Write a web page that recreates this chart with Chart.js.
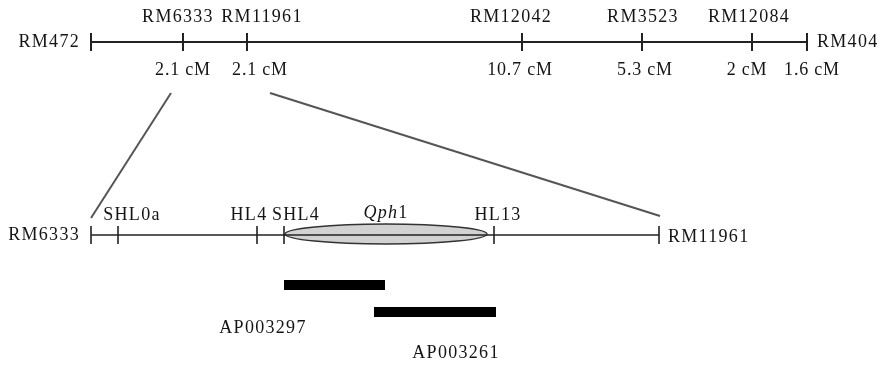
<!DOCTYPE html>
<html>
<head>
    <title>Qph1 fine map</title>
    <style>
        html, body { margin: 0; padding: 0; background: #ffffff; }
        #map { display: block; }
    </style>
</head>
<body>
    <canvas id="map" width="880" height="365"></canvas>
    <script src="https://cdn.jsdelivr.net/npm/chart.js"></script>
    <script>
        // chromosome map (positions along the drawn map)
        var topMarkers = ['RM472', 'RM6333', 'RM11961', 'RM12042', 'RM3523', 'RM12084', 'RM404'];
        var topPos = [91, 183, 247, 522, 642, 752, 807];
        var topDist = ['', '2.1 cM', '2.1 cM', '10.7 cM', '5.3 cM', '2 cM', '1.6 cM'];

        // fine map between RM6333 and RM11961
        var fineMarkers = ['RM6333', 'SHL0a', 'HL4', 'SHL4', 'HL13', 'RM11961'];
        var finePos = [91, 118, 257, 284, 494, 659];
        var qtlName = 'Qph1';
        var qtlSpan = [285, 487];

        // BAC / PAC clones
        var clones = ['AP003297', 'AP003261'];
        var cloneStart = [284, 374];
        var cloneEnd = [385, 496];

        // layout (not data)
        var topY = 42, fineY = 235, tickH = 9;
        var cloneY = [285, 312];
        var cloneLabel = [{ x: 263, y: 328 }, { x: 456, y: 353 }];
        var zoomFrom = [{ x: 171, y: 93 }, { x: 270, y: 93 }];
        var zoomTo = [{ x: 91, y: 218 }, { x: 660, y: 216 }];
        var topLabelDx = [0, -5, 15, -11, 1, -3, 0];
        var distDx = [0, 0, 13, -2, 3, -5, 5];
        var fineLabelDx = [0, 14, -8, 12, 4, 0];

        function ticks(pos, y) {
            var pts = [];
            pos.forEach(function (p) {
                pts.push({ x: p, y: y - tickH }, { x: p, y: y + tickH }, { x: p, y: null });
            });
            return pts;
        }

        function seg(x1, y1, x2, y2) { return [{ x: x1, y: y1 }, { x: x2, y: y2 }]; }

        var lineDefaults = { showLine: true, pointRadius: 0, fill: false, tension: 0, spanGaps: false };

        var datasets = [
            Object.assign({ data: seg(topPos[0], topY, topPos[topPos.length - 1], topY), borderColor: '#222222', borderWidth: 2 }, lineDefaults),
            Object.assign({ data: ticks(topPos, topY), borderColor: '#222222', borderWidth: 2 }, lineDefaults),
            Object.assign({ data: seg(finePos[0], fineY, finePos[finePos.length - 1], fineY), borderColor: '#222222', borderWidth: 1.6 }, lineDefaults),
            Object.assign({ data: ticks(finePos, fineY), borderColor: '#222222', borderWidth: 1.6 }, lineDefaults),
            Object.assign({ data: seg(zoomFrom[0].x, zoomFrom[0].y, zoomTo[0].x, zoomTo[0].y), borderColor: '#555555', borderWidth: 2 }, lineDefaults),
            Object.assign({ data: seg(zoomFrom[1].x, zoomFrom[1].y, zoomTo[1].x, zoomTo[1].y), borderColor: '#555555', borderWidth: 2 }, lineDefaults)
        ];
        clones.forEach(function (c, i) {
            datasets.push(Object.assign({
                data: seg(cloneStart[i], cloneY[i], cloneEnd[i], cloneY[i]),
                borderColor: '#000000', borderWidth: 10, borderCapStyle: 'butt'
            }, lineDefaults));
        });

        var labelPlugin = {
            id: 'labels',
            beforeDatasetsDraw: function (chart) {
                // QTL ellipse drawn under the fine-map line
                var ctx = chart.ctx, sx = chart.scales.x, sy = chart.scales.y;
                var x1 = sx.getPixelForValue(qtlSpan[0]), x2 = sx.getPixelForValue(qtlSpan[1]);
                var cy = sy.getPixelForValue(fineY - 1);
                ctx.save();
                ctx.beginPath();
                ctx.ellipse((x1 + x2) / 2, cy, (x2 - x1) / 2, 10, 0, 0, Math.PI * 2);
                ctx.fillStyle = '#d2d2d2';
                ctx.fill();
                ctx.lineWidth = 1.4;
                ctx.strokeStyle = '#333333';
                ctx.stroke();
                ctx.restore();
            },
            afterDatasetsDraw: function (chart) {
                var ctx = chart.ctx, sx = chart.scales.x, sy = chart.scales.y;
                function px(v) { return sx.getPixelForValue(v); }
                function py(v) { return sy.getPixelForValue(v); }
                ctx.save();
                ctx.fillStyle = '#141414';
                ctx.textBaseline = 'middle';
                ctx.font = '18px "Liberation Serif", "DejaVu Serif", serif';
                ctx.letterSpacing = '1.3px';

                topMarkers.forEach(function (m, i) {
                    if (i === 0) {
                        ctx.textAlign = 'right';
                        ctx.fillText(m, px(topPos[i]) - 11, py(topY));
                    } else if (i === topMarkers.length - 1) {
                        ctx.textAlign = 'left';
                        ctx.fillText(m, px(topPos[i]) + 10, py(topY));
                    } else {
                        ctx.textAlign = 'center';
                        ctx.fillText(m, px(topPos[i] + topLabelDx[i]), py(topY - 25));
                    }
                });
                ctx.letterSpacing = '0.8px';
                ctx.textAlign = 'center';
                topDist.forEach(function (d, i) {
                    if (d) ctx.fillText(d, px(topPos[i] + distDx[i]), py(topY + 28));
                });

                ctx.letterSpacing = '1.3px';
                fineMarkers.forEach(function (m, i) {
                    if (i === 0) {
                        ctx.textAlign = 'right';
                        ctx.fillText(m, px(finePos[i]) - 11, py(fineY));
                    } else if (i === fineMarkers.length - 1) {
                        ctx.textAlign = 'left';
                        ctx.fillText(m, px(finePos[i]) + 9, py(fineY + 2));
                    } else {
                        ctx.textAlign = 'center';
                        ctx.fillText(m, px(finePos[i] + fineLabelDx[i]), py(fineY - 20));
                    }
                });

                // italic gene name + plain number
                var qx = px((qtlSpan[0] + qtlSpan[1]) / 2), qy = py(fineY - 22);
                var italic = qtlName.replace(/\d+$/, ''), num = qtlName.slice(italic.length);
                ctx.font = 'italic 18px "Liberation Serif", "DejaVu Serif", serif';
                var w1 = ctx.measureText(italic).width;
                ctx.font = '18px "Liberation Serif", "DejaVu Serif", serif';
                var w2 = ctx.measureText(num).width;
                var start = qx - (w1 + w2) / 2;
                ctx.textAlign = 'left';
                ctx.font = 'italic 18px "Liberation Serif", "DejaVu Serif", serif';
                ctx.fillText(italic, start, qy);
                ctx.font = '18px "Liberation Serif", "DejaVu Serif", serif';
                ctx.fillText(num, start + w1, qy);

                ctx.textAlign = 'center';
                clones.forEach(function (c, i) {
                    ctx.fillText(c, px(cloneLabel[i].x), py(cloneLabel[i].y));
                });
                ctx.restore();
            }
        };

        new Chart(document.getElementById('map').getContext('2d'), {
            type: 'scatter',
            data: { datasets: datasets },
            options: {
                responsive: false,
                animation: false,
                layout: { padding: 0 },
                plugins: { legend: { display: false }, tooltip: { enabled: false } },
                scales: {
                    x: { type: 'linear', min: 0, max: 880, display: false },
                    y: { type: 'linear', min: 0, max: 365, reverse: true, display: false }
                }
            },
            plugins: [labelPlugin]
        });
    </script>
</body>
</html>
